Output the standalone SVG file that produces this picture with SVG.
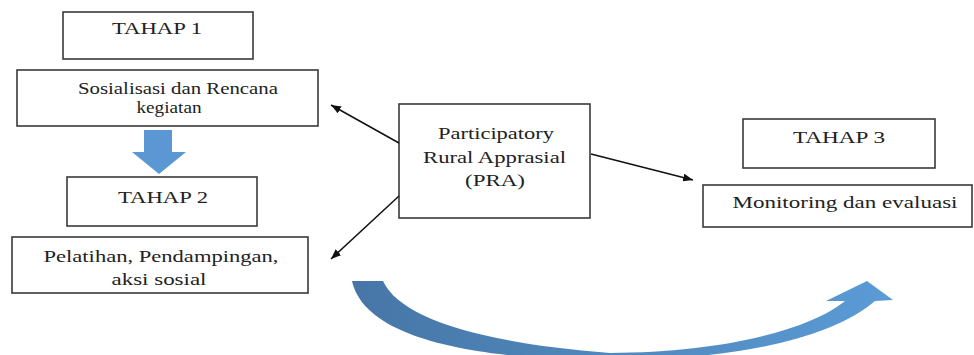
<svg xmlns="http://www.w3.org/2000/svg" width="974" height="355" viewBox="0 0 974 355">
<defs>
<style>
.box{fill:#fff;stroke:#3a3a3a;stroke-width:1.6}
.t{font-family:"Liberation Serif","Times New Roman","DejaVu Serif",serif;font-size:17px;fill:#222;text-anchor:middle}
.c{stroke:#111;stroke-width:1.5;fill:none;marker-end:url(#ah)}
</style>
<marker id="ah" viewBox="0 0 10 8" refX="10" refY="4" markerWidth="10" markerHeight="8" markerUnits="userSpaceOnUse" orient="auto">
<path d="M0,0 L10,4 L0,8 Z" fill="#111"/>
</marker>
<linearGradient id="cg" x1="350" y1="0" x2="895" y2="0" gradientUnits="userSpaceOnUse">
<stop offset="0" stop-color="#4676a6"/>
<stop offset="1" stop-color="#5b9bd6"/>
</linearGradient>
</defs>
<g id="tahap1">
<rect class="box" x="63" y="12" width="190" height="47"/>
<text class="t" x="157" y="34" textLength="90" lengthAdjust="spacingAndGlyphs">TAHAP 1</text>
</g>
<g id="sosialisasi">
<rect class="box" x="17" y="70" width="301" height="56"/>
<text class="t" x="178" y="94" textLength="200" lengthAdjust="spacingAndGlyphs">Sosialisasi dan Rencana</text>
<text class="t" x="169" y="113" textLength="65" lengthAdjust="spacingAndGlyphs">kegiatan</text>
</g>
<g id="down-arrow">
<path d="M144,130 L172,130 L172,152 L186,152 L159,174 L132,152 L144,152 Z" fill="#5a97d3"/>
</g>
<g id="tahap2">
<rect class="box" x="67" y="177" width="190" height="49"/>
<text class="t" x="163" y="203" textLength="90" lengthAdjust="spacingAndGlyphs">TAHAP 2</text>
</g>
<g id="pelatihan">
<rect class="box" x="12" y="237" width="296" height="56"/>
<text class="t" x="161" y="262" textLength="235" lengthAdjust="spacingAndGlyphs">Pelatihan, Pendampingan,</text>
<text class="t" x="159" y="285" textLength="95" lengthAdjust="spacingAndGlyphs">aksi sosial</text>
</g>
<g id="pra">
<rect class="box" x="399" y="104" width="191" height="114"/>
<text class="t" x="496" y="139" textLength="116" lengthAdjust="spacingAndGlyphs">Participatory</text>
<text class="t" x="494.5" y="163" textLength="143" lengthAdjust="spacingAndGlyphs">Rural Apprasial</text>
<text class="t" x="495" y="186" textLength="60" lengthAdjust="spacingAndGlyphs">(PRA)</text>
</g>
<g id="tahap3">
<rect class="box" x="743" y="119" width="192" height="49"/>
<text class="t" x="839" y="143" textLength="92" lengthAdjust="spacingAndGlyphs">TAHAP 3</text>
</g>
<g id="monitoring">
<rect class="box" x="703" y="185" width="269" height="42"/>
<text class="t" x="845" y="208" textLength="225" lengthAdjust="spacingAndGlyphs">Monitoring dan evaluasi</text>
</g>
<g id="connectors">
<line class="c" x1="399" y1="143" x2="331" y2="105"/>
<line class="c" x1="399" y1="196" x2="331" y2="259"/>
<line class="c" x1="591" y1="154" x2="693" y2="180"/>
</g>
<g id="curved-arrow">
<path d="M352,281 L383,281 C400,318 480,343 610,353 C720,353 810,330 845,301 L826,301 L867,281 L893,300 L875,301 C830,340 730,360 610,360 C480,360 365,340 352,281 Z" fill="url(#cg)"/>
</g>
</svg>
